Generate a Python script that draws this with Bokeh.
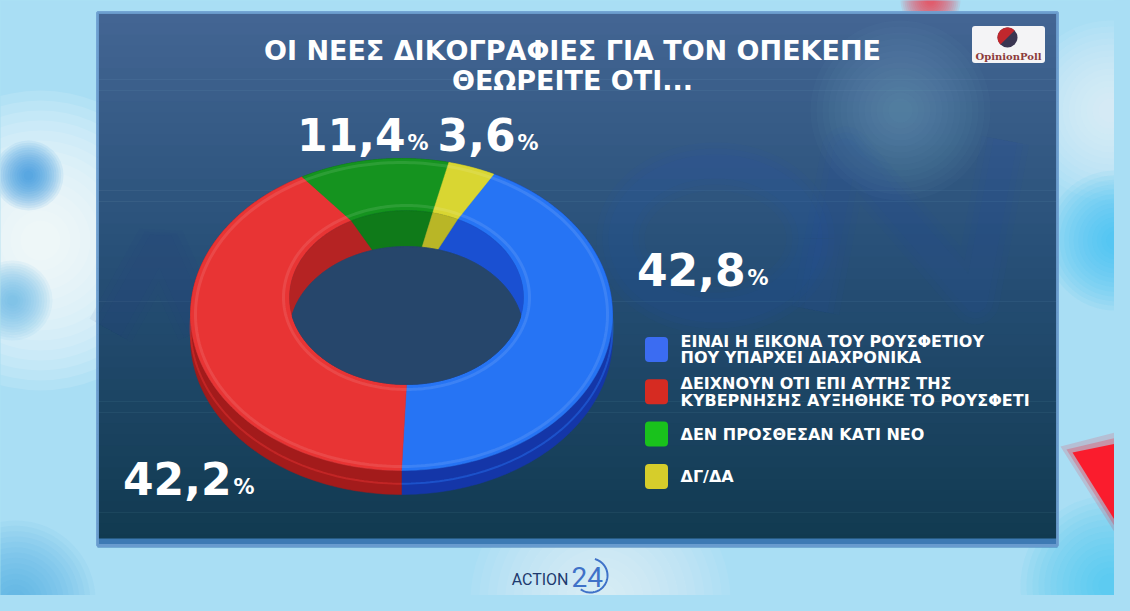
import numpy as np
from bokeh.plotting import figure
from bokeh.models import Range1d
from bokeh.core.properties import value
from bokeh.embed import file_html
from bokeh.resources import INLINE

# ---------------- data ----------------
title_lines = ["ΟΙ ΝΕΕΣ ΔΙΚΟΓΡΑΦΙΕΣ ΓΙΑ ΤΟΝ ΟΠΕΚΕΠΕ", "ΘΕΩΡΕΙΤΕ ΟΤΙ..."]
categories = [
    ["ΕΙΝΑΙ Η ΕΙΚΟΝΑ ΤΟΥ ΡΟΥΣΦΕΤΙΟΥ", "ΠΟΥ ΥΠΑΡΧΕΙ ΔΙΑΧΡΟΝΙΚΑ"],
    ["ΔΕΙΧΝΟΥΝ ΟΤΙ ΕΠΙ ΑΥΤΗΣ ΤΗΣ", "ΚΥΒΕΡΝΗΣΗΣ ΑΥΞΗΘΗΚΕ ΤΟ ΡΟΥΣΦΕΤΙ"],
    ["ΔΕΝ ΠΡΟΣΘΕΣΑΝ ΚΑΤΙ ΝΕΟ"],
    ["ΔΓ/ΔΑ"],
]
values = [42.8, 42.2, 11.4, 3.6]

# ---------------- styles ----------------
top_colors = ["#2674f4", "#e83434", "#15931f", "#d9d632"]
side_colors = ["#1436a8", "#a31b1b", "#0a6513", "#a6a31b"]
wall_colors = ["#1a50d2", "#b52323", "#0f7a19", "#b9b626"]
legend_colors = ["#3b6cf2", "#d62b22", "#19c21c", "#d6cd2b"]
label_split_x = [745, 231, 405, 515]
label_mid_y = [269, 478, 134, 134]

W, H = 1114, 595
p = figure(width=W, height=H, x_range=Range1d(0, W), y_range=Range1d(H, 0),
           output_backend="svg", toolbar_location=None, min_border=0,
           x_axis_type=None, y_axis_type=None)
p.grid.visible = False
p.outline_line_color = None
p.background_fill_color = "#aee2f5"
p.border_fill_color = "#aee2f5"


def blob(x, y, r, color, n=14, a=0.07):
    p.circle(x=[x] * n, y=[y] * n, radius=[r * (1 - k / (n + 1)) for k in range(n)],
             fill_color=color, fill_alpha=a, line_color=None)


# sky background
p.quad(left=[0], right=[1130], top=[0], bottom=[611], fill_color="#a9def4", line_color=None)
blob(40, 240, 150, "#ffffff", a=0.12)
blob(1110, 110, 90, "#eaf9ff", a=0.09)
blob(1115, 240, 70, "#2fc4f0", a=0.08)
blob(1110, 585, 90, "#35c0ee", a=0.07)
blob(28, 175, 35, "#2c8ee0", a=0.09)
blob(12, 300, 40, "#5aaeea", a=0.08)
blob(15, 600, 80, "#4aa8e8", a=0.07)
blob(600, 600, 130, "#ffffff", a=0.06)
blob(930, 0, 30, "#ff2030", a=0.08)
for k, a in enumerate([0.15, 0.25, 0.9]):
    g = 12 - 6 * k
    p.patch(x=[1072 - g, 1130, 1130], y=[452 - g / 2, 440 - g, 545 + g], fill_color="#ff1020",
            fill_alpha=a, line_color=None)

# panel gradient
PL, PR, PT, PB = 97, 1057, 12, 545
stops = [(0.0, (68, 102, 148)), (0.45, (40, 80, 120)), (1.0, (17, 58, 80))]
nb = 48
ys = np.linspace(PT, PB, nb + 1)
cols = []
for k in range(nb):
    t = (k + 0.5) / nb
    for j in range(len(stops) - 1):
        if stops[j][0] <= t <= stops[j + 1][0]:
            u = (t - stops[j][0]) / (stops[j + 1][0] - stops[j][0])
            c = [int(stops[j][1][m] + u * (stops[j + 1][1][m] - stops[j][1][m])) for m in range(3)]
            cols.append("#%02x%02x%02x" % tuple(c))
            break
p.quad(left=PL, right=PR, top=ys[:-1], bottom=ys[1:] + 0.6, fill_color=cols, line_color=None)
# soft blurred shapes in the panel (out-of-focus backdrop letters)
blob(900, 110, 90, "#7aa6cc", a=0.04)
ring = np.linspace(0, 2 * np.pi, 200)
for lw in [48, 36, 24]:
    p.line(715 + 95 * np.cos(ring), 238 + 72 * np.sin(ring), line_color="#2450b8", line_width=lw,
           line_alpha=0.06)
    p.line([815, 845, 975, 1005], [310, 150, 300, 140], line_color="#2450b8", line_width=lw,
           line_alpha=0.05, line_join="round")
    p.line([110, 160, 200], [330, 240, 330], line_color="#1e3f90", line_width=lw, line_alpha=0.05)
p.quad(left=PL, right=PR, top=PB - 7, bottom=PB + 2, fill_color="#3d7ab4", line_color=None)
p.quad(left=[PL], right=[PR], top=[PT], bottom=[PB], fill_color=None,
       line_color="#6d9fd0", line_width=3, line_alpha=0.9)

# ---------------- donut ----------------
cxo, cyo, rxo, ryo = 401, 314, 211, 156
cxi, cyi, rxi, ryi = 406, 297, 117, 87
d_out, d_in = 24, 36


def ell(cx, cy, rx, ry, th):
    return cx + rx * np.sin(th), cy - ry * np.cos(th)


fr = np.array(values) / sum(values)
start = np.pi - 2 * np.pi * fr[0]
edges = start + 2 * np.pi * np.concatenate([[0], np.cumsum(fr)])
segs = [np.linspace(edges[i], edges[i + 1], 120) for i in range(len(values))]

# outer side walls
sx, sy = [], []
for th in segs:
    xo, yo = ell(cxo, cyo, rxo, ryo, th)
    sx.append(np.concatenate([xo, xo[::-1]]).tolist())
    sy.append(np.concatenate([yo, yo[::-1] + d_out]).tolist())
p.patches(sx, sy, fill_color=side_colors, line_color=side_colors, line_width=0.5)
for th, c in zip(segs, top_colors):
    xo, yo = ell(cxo, cyo, rxo, ryo, th)
    p.line(xo, yo + d_out * 0.55, line_color=c, line_width=2, line_alpha=0.45)

# top faces
tx, ty = [], []
for th in segs:
    xo, yo = ell(cxo, cyo, rxo, ryo, th)
    xi, yi = ell(cxi, cyi, rxi, ryi, th)
    tx.append(np.concatenate([xo, xi[::-1]]).tolist())
    ty.append(np.concatenate([yo, yi[::-1]]).tolist())
p.patches(tx, ty, fill_color=top_colors, line_color=top_colors, line_width=0.5)

# bevel highlights on the top face
full = np.linspace(0, 2 * np.pi, 300)
bx, by = ell(cxo, cyo, rxo - 5, ryo - 4, full)
p.line(bx, by, line_color="white", line_width=3, line_alpha=0.1)
bx, by = ell(cxi, cyi, rxi + 6, ryi + 5, full)
p.line(bx, by, line_color="white", line_width=3, line_alpha=0.1)

# inner walls seen through the hole
wx, wy = [], []
for th in segs:
    xi, yi = ell(cxi, cyi, rxi, ryi, th)
    wx.append([cxi] + xi.tolist())
    wy.append([cyi] + yi.tolist())
p.patches(wx, wy, fill_color=wall_colors, line_color=wall_colors, line_width=0.5)

# floor of the hole (panel background)
xx = np.linspace(-rxi, rxi, 400)
hh = ryi * np.sqrt(np.clip(1 - (xx / rxi) ** 2, 0, None))
m = 2 * hh > d_in
fx = cxi + xx[m]
p.patch(np.concatenate([fx, fx[::-1]]), np.concatenate([(cyi - hh + d_in)[m], (cyi + hh)[m][::-1]]),
        fill_color="#26466b", line_color="#26466b")

# ---------------- percentage labels ----------------
num_txt = [("%.1f" % v).replace(".", ",") for v in values]
p.text(x=label_split_x, y=label_mid_y, text=num_txt, text_align="right", text_baseline="middle",
       text_font=value("DejaVu Sans"), text_font_style="bold", text_font_size="44px", text_color="white")
p.text(x=[v + 2 for v in label_split_x], y=[v + 8 for v in label_mid_y], text=["%"] * len(values),
       text_align="left", text_baseline="middle", text_font=value("DejaVu Sans"), text_font_style="bold",
       text_font_size="21px", text_color="white")

# ---------------- title ----------------
p.text(x=[572, 572], y=[50, 80], text=title_lines, text_align="center", text_baseline="middle",
       text_font=value("DejaVu Sans"), text_font_style="bold", text_font_size="27px", text_color="white")

# ---------------- legend ----------------
row_y = [349 + 42.3 * i for i in range(len(categories))]
p.rect(x=[656] * len(categories), y=row_y, width=23, height=25, fill_color=legend_colors,
       line_color=None, border_radius=4)
lx, ly, lt = [], [], []
for yc, lines in zip(row_y, categories):
    n = len(lines)
    for j, s in enumerate(lines):
        lx.append(680)
        ly.append(yc + (j - (n - 1) / 2) * 16.5)
        lt.append(s)
p.text(x=lx, y=ly, text=lt, text_align="left", text_baseline="middle", text_font=value("DejaVu Sans"),
       text_font_style="bold", text_font_size="16px", text_color="white")

# ---------------- logos ----------------
p.rect(x=[1008], y=[44], width=73, height=37, fill_color="#f4f4f6", line_color=None, border_radius=3)
p.circle(x=[1007], y=[37], radius=10, fill_color="#3a3652", line_color=None)
aa = np.linspace(0.75 * np.pi, 1.75 * np.pi, 50)
p.patch(1007 + 10 * np.cos(aa), 37 + 10 * np.sin(aa), fill_color="#c0272d", line_color=None)
p.text(x=[1008], y=[56], text=["OpinionPoll"], text_align="center", text_baseline="middle",
       text_font=value("DejaVu Serif"), text_font_style="bold", text_font_size="10px", text_color="#8c3b3b")

p.text(x=[568], y=[579], text=["ACTION"], text_align="right", text_baseline="middle",
       text_font=value("Roboto"), text_font_size="16px", text_color="#1d3a6e")
p.text(x=[571], y=[576], text=["24"], text_align="left", text_baseline="middle",
       text_font=value("Roboto"), text_font_size="28px", text_color="#3f72c8")
aa = np.deg2rad(np.linspace(-75, 125, 60))
p.line(590 + 17 * np.cos(aa), 575 + 17 * np.sin(aa), line_color="#3f72c8", line_width=2)

html = file_html(p, INLINE)
html = html.replace("<head>", "<head><style>html,body{background:#a9def4;}</style>", 1)
open("out.html", "w").write(html)
